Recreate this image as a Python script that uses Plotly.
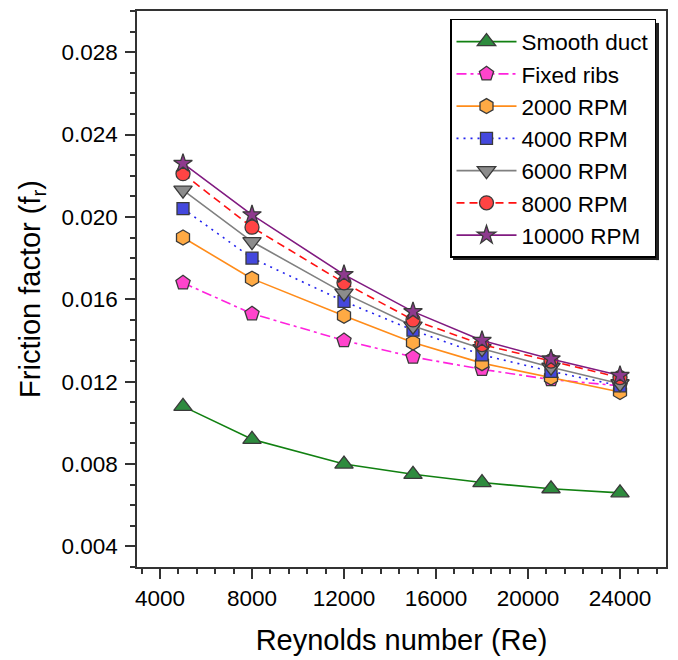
import plotly.graph_objects as go

re_vals = [5000, 8000, 12000, 15000, 18000, 21000, 24000]
smooth_duct = [0.0108, 0.0092, 0.0080, 0.0075, 0.0071, 0.0068, 0.0066]
fixed_ribs = [0.0168, 0.0153, 0.0140, 0.0132, 0.0126, 0.0121, 0.0118]
rpm_2000 = [0.0190, 0.0170, 0.0152, 0.0139, 0.0129, 0.0122, 0.0115]
rpm_4000 = [0.0204, 0.0180, 0.0159, 0.0145, 0.0133, 0.0125, 0.0118]
rpm_6000 = [0.0213, 0.0188, 0.0163, 0.0147, 0.0136, 0.0127, 0.0119]
rpm_8000 = [0.0221, 0.0195, 0.0168, 0.0150, 0.0138, 0.0130, 0.0122]
rpm_10000 = [0.0226, 0.0201, 0.0172, 0.0154, 0.0140, 0.0131, 0.0123]

series = [
    ("Smooth duct", smooth_duct, "#118011", "solid", "triangle-up", "#2e8b3e", 16),
    ("Fixed ribs", fixed_ribs, "#ff22dd", "10px,4px,3px,4px", "pentagon", "#ff44cc", 15),
    ("2000 RPM", rpm_2000, "#ff8c1a", "solid", "hexagon", "#ffaa44", 15),
    ("4000 RPM", rpm_4000, "#2222ee", "2px,5px", "square", "#4448dd", 12),
    ("6000 RPM", rpm_6000, "#808080", "solid", "triangle-down", "#8c8c8c", 16),
    ("8000 RPM", rpm_8000, "#ff1111", "8px,5px", "circle", "#ff4444", 14),
    ("10000 RPM", rpm_10000, "#801a80", "solid", "star", "#8e3a8e", 14),
]

fig = go.Figure()
for name, vals, lc, dash, sym, fc, sz in series:
    fig.add_trace(go.Scatter(
        x=re_vals, y=vals, name=name, mode="lines+markers",
        line=dict(color=lc, width=1.6, dash=dash),
        marker=dict(symbol=sym, size=sz, color=fc,
                    line=dict(color="#3a3a3a", width=1.3)),
    ))

L, R, T, B = 137, 12, 9, 93
W, H = 678, 660
pw, ph = W - L - R, H - T - B


def px_x(p):
    return (p - L) / pw


def px_y(p):
    return 1 - (p - T) / ph


# legend drop shadow (right and bottom edges)
shadow = dict(type="rect", xref="paper", yref="paper", layer="below",
              fillcolor="#222222", line=dict(width=0))
shapes = [
    dict(shadow, x0=px_x(656), x1=px_x(659), y0=px_y(21), y1=px_y(259)),
    dict(shadow, x0=px_x(453), x1=px_x(659), y0=px_y(256), y1=px_y(259)),
]

font_family = "Liberation Sans, Arial, Helvetica, sans-serif"
fig.update_layout(
    width=W, height=H,
    margin=dict(l=L, r=R, t=T, b=B),
    paper_bgcolor="white", plot_bgcolor="white",
    font=dict(family=font_family, color="black", size=22),
    showlegend=True,
    shapes=shapes,
    legend=dict(
        x=px_x(656), y=px_y(17), xanchor="right", yanchor="top",
        bgcolor="white", bordercolor="black", borderwidth=1.5,
        font=dict(size=22.5, family=font_family),
        itemwidth=60, tracegroupgap=0,
    ),
    xaxis=dict(
        range=[3000, 26000], tick0=4000, dtick=4000, tickformat="d",
        showline=True, linecolor="#333333", linewidth=1.5, mirror=True,
        ticks="outside", ticklen=10, tickwidth=1.5, tickcolor="#333333",
        showgrid=False, zeroline=False,
        tickfont=dict(size=22.5),
        minor=dict(tick0=4000, dtick=800, ticks="outside", ticklen=5,
                   tickwidth=1.5, tickcolor="#333333", showgrid=False),
        title=dict(text="Reynolds number (Re)", font=dict(size=29), standoff=20),
    ),
    yaxis=dict(
        range=[0.003, 0.030], tick0=0.004, dtick=0.004, tickformat=".3f",
        showline=True, linecolor="#333333", linewidth=1.5, mirror=True,
        ticks="outside", ticklen=10, tickwidth=1.5, tickcolor="#333333",
        showgrid=False, zeroline=False,
        tickfont=dict(size=22.5), ticklabelstandoff=3,
        minor=dict(tick0=0.004, dtick=0.001, ticks="outside", ticklen=5,
                   tickwidth=1.5, tickcolor="#333333", showgrid=False),
        title=dict(text="Friction factor (f<sub>r</sub>)", font=dict(size=29), standoff=12),
    ),
)

fig.write_html("out.html")
